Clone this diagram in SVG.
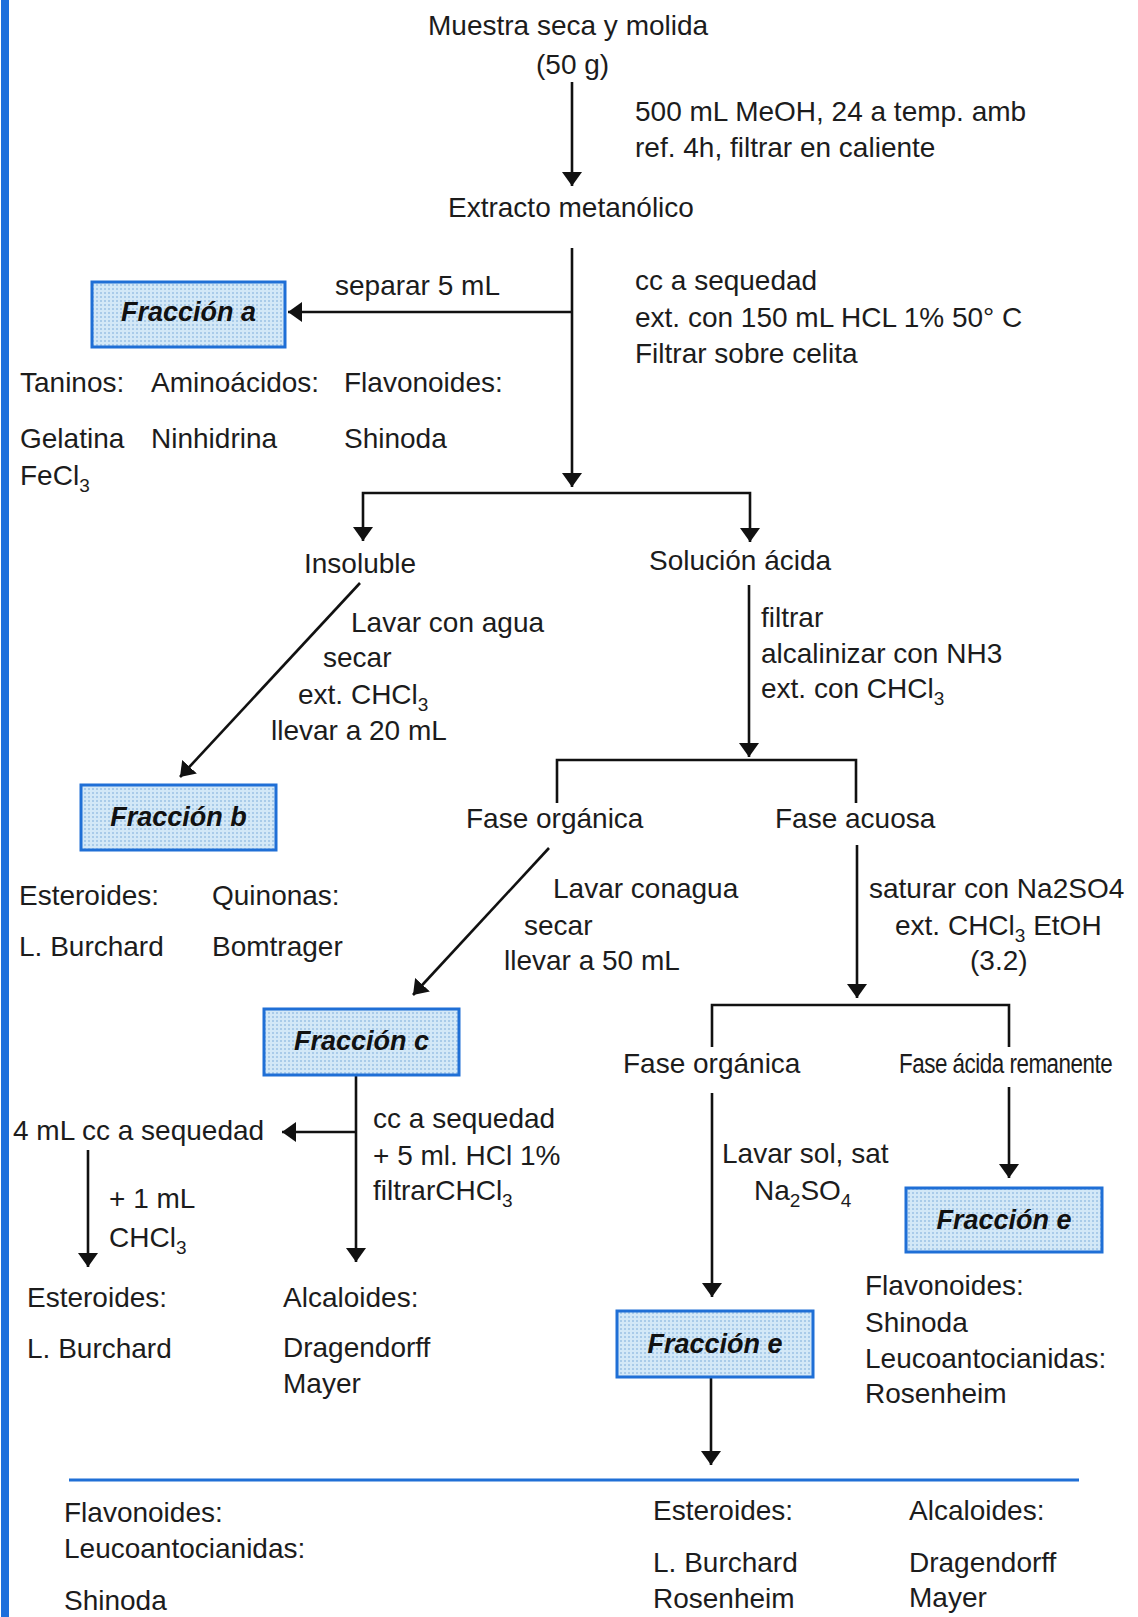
<svg xmlns="http://www.w3.org/2000/svg" width="1138" height="1617" viewBox="0 0 1138 1617">
<style>
text{font-family:"Liberation Sans",Arial,sans-serif;font-size:28px;fill:#1c1c1c}
.box{fill:url(#dots);stroke:#1f6fd6;stroke-width:3}
.bl{font-weight:bold;font-style:italic;font-size:27px;text-anchor:middle;fill:#111}
.c{fill:none;stroke:#111;stroke-width:2.6}
.a{marker-end:url(#ah)}
.s{font-size:19px}
</style>
<defs>
<pattern id="dots" width="4" height="4" patternUnits="userSpaceOnUse">
<rect width="4" height="4" fill="#d3e8f7"/>
<rect x="0" y="0" width="2" height="2" fill="#a9cbe9"/>
</pattern>
<marker id="ah" viewBox="0 0 14 20" refX="14" refY="10" markerWidth="14" markerHeight="20" markerUnits="userSpaceOnUse" orient="auto">
<path d="M0,0 L14,10 L0,20 Z" fill="#111"/>
</marker>
</defs>
<rect x="0" y="0" width="1138" height="1617" fill="#fff"/>
<rect x="1" y="0" width="8" height="1617" fill="#1d6fdc"/>

<g id="connectors">
<path class="c a" d="M572,82 V186"/>
<path class="c a" d="M572,248 V487"/>
<path class="c a" d="M572,312 H288"/>
<path class="c a" d="M572,493 H363 V541"/>
<path class="c a" d="M572,493 H750 V542"/>
<path class="c a" d="M360,583 L180,777"/>
<path class="c a" d="M749,585 V757"/>
<path class="c" d="M557,803 V760 H856 V803"/>
<path class="c a" d="M549,848 L413,995"/>
<path class="c a" d="M857,845 V998"/>
<path class="c" d="M712,1047 V1005 H1009 V1047"/>
<path class="c a" d="M712,1093 V1297"/>
<path class="c a" d="M1009,1087 V1178"/>
<path class="c a" d="M356,1075 V1262"/>
<path class="c a" d="M356,1132 H282"/>
<path class="c a" d="M88,1150 V1267"/>
<path class="c a" d="M711,1377 V1465"/>
<path d="M69,1480 H1079" stroke="#1f6fd6" stroke-width="3" fill="none"/>
</g>

<g id="muestra">
<text x="428" y="35">Muestra seca y molida</text>
<text x="536" y="74">(50 g)</text>
</g>
<g id="lbl-meoh">
<text x="635" y="121">500 mL MeOH, 24 a temp. amb</text>
<text x="635" y="157">ref. 4h, filtrar en caliente</text>
</g>
<g id="extracto"><text x="448" y="217">Extracto metanólico</text></g>
<g id="lbl-separar"><text x="335" y="295">separar 5 mL</text></g>
<g id="lbl-cc1">
<text x="635" y="290">cc a sequedad</text>
<text x="635" y="327">ext. con 150 mL HCL 1% 50° C</text>
<text x="635" y="363">Filtrar sobre celita</text>
</g>
<g id="fraccion-a">
<rect class="box" x="92" y="282" width="193" height="65"/>
<text class="bl" x="188.5" y="321">Fracción a</text>
</g>
<g id="tests-a">
<text x="20" y="392">Taninos:</text>
<text x="151" y="392">Aminoácidos:</text>
<text x="344" y="392">Flavonoides:</text>
<text x="20" y="448">Gelatina</text>
<text x="151" y="448">Ninhidrina</text>
<text x="344" y="448">Shinoda</text>
<text x="20" y="485">FeCl<tspan class="s" dy="7">3</tspan></text>
</g>
<g id="insoluble"><text x="304" y="573">Insoluble</text></g>
<g id="solucion"><text x="649" y="570">Solución ácida</text></g>
<g id="lbl-lavar1">
<text x="351" y="632">Lavar con agua</text>
<text x="323" y="667">secar</text>
<text x="298" y="704">ext. CHCl<tspan class="s" dy="7">3</tspan></text>
<text x="271" y="740">llevar a 20 mL</text>
</g>
<g id="lbl-filtrar">
<text x="761" y="627">filtrar</text>
<text x="761" y="663">alcalinizar con NH3</text>
<text x="761" y="698">ext. con CHCl<tspan class="s" dy="7">3</tspan></text>
</g>
<g id="fraccion-b">
<rect class="box" x="81" y="785" width="195" height="65"/>
<text class="bl" x="178.5" y="826">Fracción b</text>
</g>
<g id="fase-organica-1"><text x="466" y="828">Fase orgánica</text></g>
<g id="fase-acuosa"><text x="775" y="828">Fase acuosa</text></g>
<g id="tests-b">
<text x="19" y="905">Esteroides:</text>
<text x="212" y="905">Quinonas:</text>
<text x="19" y="956">L. Burchard</text>
<text x="212" y="956">Bomtrager</text>
</g>
<g id="lbl-lavar2">
<text x="553" y="898">Lavar conagua</text>
<text x="524" y="935">secar</text>
<text x="504" y="970">llevar a 50 mL</text>
</g>
<g id="lbl-saturar">
<text x="869" y="898">saturar con Na2SO4</text>
<text x="895" y="935">ext. CHCl<tspan class="s" dy="7">3</tspan><tspan dy="-7"> EtOH</tspan></text>
<text x="970" y="970">(3.2)</text>
</g>
<g id="fraccion-c">
<rect class="box" x="264" y="1009" width="195" height="66"/>
<text class="bl" x="361.5" y="1050">Fracción c</text>
</g>
<g id="fase-organica-2"><text x="623" y="1073">Fase orgánica</text></g>
<g id="fase-acida"><text transform="translate(899,1073) scale(0.8,1)" x="0" y="0" letter-spacing="-0.6">Fase ácida remanente</text></g>
<g id="cc-4ml"><text x="13" y="1140">4 mL cc a sequedad</text></g>
<g id="lbl-cc2">
<text x="373" y="1128">cc a sequedad</text>
<text x="373" y="1165">+ 5 ml. HCl 1%</text>
<text x="373" y="1200">filtrarCHCl<tspan class="s" dy="7">3</tspan></text>
</g>
<g id="lbl-1ml">
<text x="109" y="1208">+ 1 mL</text>
<text x="109" y="1247">CHCl<tspan class="s" dy="7">3</tspan></text>
</g>
<g id="lbl-lavarsol">
<text x="722" y="1163">Lavar sol, sat</text>
<text x="754" y="1200">Na<tspan class="s" dy="7">2</tspan><tspan dy="-7">SO</tspan><tspan class="s" dy="7">4</tspan></text>
</g>
<g id="esteroides-c">
<text x="27" y="1307">Esteroides:</text>
<text x="27" y="1358">L. Burchard</text>
</g>
<g id="alcaloides-c">
<text x="283" y="1307">Alcaloides:</text>
<text x="283" y="1357">Dragendorff</text>
<text x="283" y="1393">Mayer</text>
</g>
<g id="fraccion-e-right">
<rect class="box" x="906" y="1188" width="196" height="64"/>
<text class="bl" x="1004" y="1229">Fracción e</text>
</g>
<g id="tests-e-right">
<text x="865" y="1295">Flavonoides:</text>
<text x="865" y="1332">Shinoda</text>
<text x="865" y="1368">Leucoantocianidas:</text>
<text x="865" y="1403">Rosenheim</text>
</g>
<g id="fraccion-e-bottom">
<rect class="box" x="617" y="1311" width="196" height="66"/>
<text class="bl" x="715" y="1353">Fracción e</text>
</g>
<g id="final-flavonoides">
<text x="64" y="1522">Flavonoides:</text>
<text x="64" y="1558">Leucoantocianidas:</text>
<text x="64" y="1610">Shinoda</text>
</g>
<g id="final-esteroides">
<text x="653" y="1520">Esteroides:</text>
<text x="653" y="1572">L. Burchard</text>
<text x="653" y="1608">Rosenheim</text>
</g>
<g id="final-alcaloides">
<text x="909" y="1520">Alcaloides:</text>
<text x="909" y="1572">Dragendorff</text>
<text x="909" y="1607">Mayer</text>
</g>
</svg>
